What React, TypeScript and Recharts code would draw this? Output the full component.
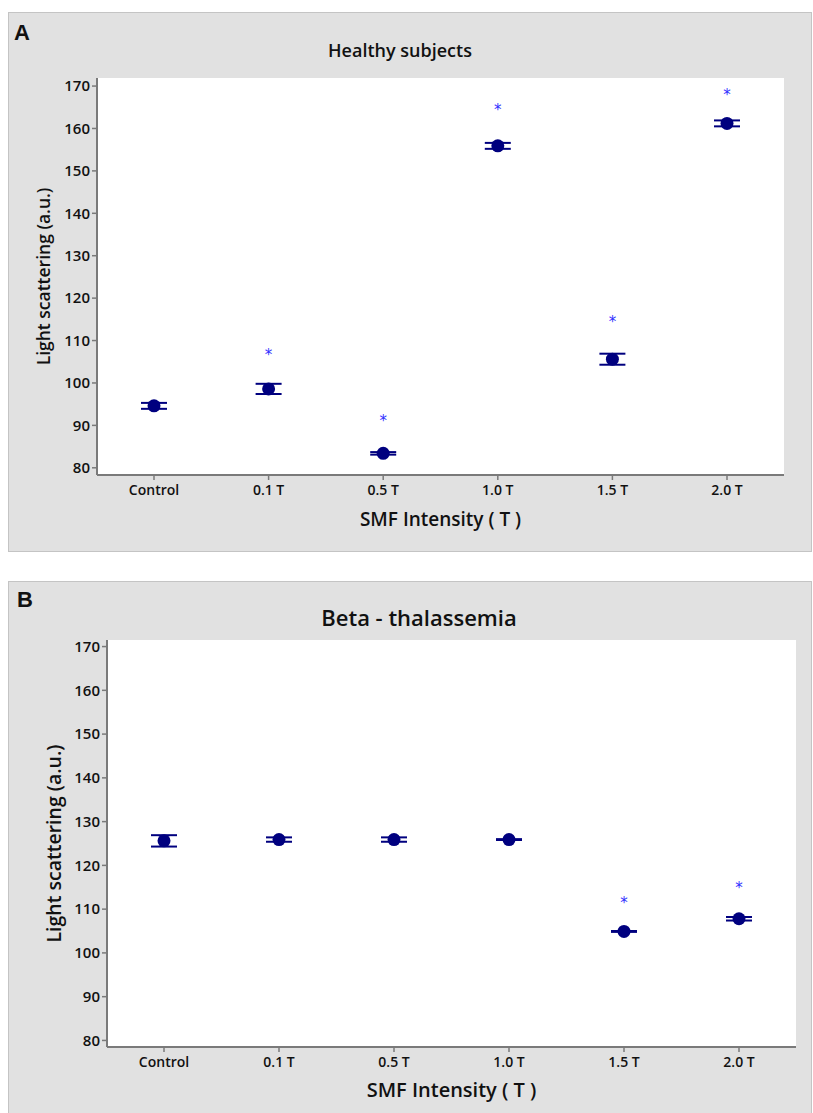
import { ComposedChart, Scatter, XAxis, YAxis, ErrorBar, CartesianGrid } from "recharts";

const categories = ["Control", "0.1 T", "0.5 T", "1.0 T", "1.5 T", "2.0 T"];
const yTicks = [80, 90, 100, 110, 120, 130, 140, 150, 160, 170];

// panel A - healthy subjects
const healthyMean = [94.6, 98.6, 83.4, 155.9, 105.6, 161.2];
const healthyErr = [0.7, 1.2, 0.3, 0.7, 1.3, 0.7];
const healthyStar = [null, 107.2, 91.7, 165.0, 115.1, 168.6];

// panel B - beta thalassemia
const thalMean = [125.6, 125.9, 125.9, 125.9, 104.9, 107.8];
const thalErr = [1.3, 0.5, 0.5, 0.1, 0.1, 0.4];
const thalStar = [null, null, null, null, 112.2, 115.5];

const NAVY = "#00007f";
const AXIS = "#7a7a7a";
const FONT = "'Open Sans', 'Noto Sans', sans-serif";

const buildRows = (mean: number[], err: number[], star: (number | null)[]) =>
    categories.map((name, i) => ({ name, mean: mean[i], err: err[i], star: star[i] }));

const Dot = (p: any) => <circle cx={p.cx} cy={p.cy} r={6.5} fill={NAVY} />;

const Star = (p: any) =>
    p.payload.star == null ? <g /> : (
        <text x={p.cx} y={p.cy + 8} textAnchor="middle" fill="#3030ff" fontSize={15} fontFamily="DejaVu Sans">*</text>
    );

type PanelProps = {
    letter: string;
    title: string;
    top: number;
    titleX: number;
    titleTop: number;
    titleSize: number;
    letterTop: number;
    letterLeft: number;
    margin: { top: number; right: number; bottom: number; left: number };
    domain: [number, number];
    rows: any[];
    yLabelOffset: number;
    yLabelSize: number;
    xLabelOffset: number;
    xLabelSize: number;
};

function Panel(props: PanelProps) {
    const { letter, title, top, titleX, titleTop, letterTop, letterLeft, margin, domain, rows } = props;
    return (
        <div style={{ position: "absolute", left: 8, top, width: 804, height: 540, background: "#e1e1e1", border: "1px solid #c4c4c4", boxSizing: "border-box" }}>
            <div style={{ position: "absolute", left: letterLeft, top: letterTop, fontFamily: "'Liberation Sans', Arial, sans-serif", fontWeight: 700, fontSize: 22, lineHeight: "22px", color: "#111" }}>
                {letter}
            </div>
            <div style={{ position: "absolute", left: titleX, top: titleTop, transform: "translateX(-50%)", whiteSpace: "nowrap", fontFamily: FONT, fontWeight: 600, fontSize: props.titleSize, lineHeight: "20px", color: "#111" }}>
                {title}
            </div>
            <ComposedChart width={802} height={538} data={rows} margin={margin} style={{ position: "absolute", left: 0, top: 0 }}>
                <CartesianGrid fill="#ffffff" horizontal={false} vertical={false} />
                <XAxis
                    dataKey="name"
                    type="category"
                    height={60}
                    interval={0}
                    padding={{ left: 57, right: 57 }}
                    tickSize={5}
                    tickMargin={5}
                    axisLine={{ stroke: AXIS, strokeWidth: 2 }}
                    tickLine={{ stroke: AXIS, strokeWidth: 1.5 }}
                    tick={{ fill: "#111", fontSize: 14, fontWeight: 600, fontFamily: FONT }}
                    label={{ value: "SMF Intensity ( T )", position: "insideBottom", offset: props.xLabelOffset, fill: "#111", fontSize: props.xLabelSize, fontWeight: 600, fontFamily: FONT }}
                />
                <XAxis xAxisId="top" dataKey="name" orientation="top" height={0} tick={false} tickLine={false} axisLine={{ stroke: AXIS, strokeWidth: 2 }} />
                <YAxis
                    type="number"
                    domain={domain}
                    allowDataOverflow
                    ticks={yTicks}
                    interval={0}
                    width={60}
                    tickSize={5}
                    axisLine={{ stroke: AXIS, strokeWidth: 2 }}
                    tickLine={{ stroke: AXIS, strokeWidth: 1.5 }}
                    tick={{ fill: "#111", fontSize: 15, fontWeight: 600, fontFamily: FONT }}
                    label={{ value: "Light scattering (a.u.)", angle: -90, position: "insideLeft", offset: props.yLabelOffset, fill: "#111", fontSize: props.yLabelSize, fontWeight: 600, fontFamily: FONT, style: { textAnchor: "middle" } }}
                />
                <YAxis yAxisId="right" orientation="right" width={0} domain={domain} tick={false} tickLine={false} axisLine={{ stroke: AXIS, strokeWidth: 2 }} />
                <Scatter dataKey="mean" shape={Dot} isAnimationActive={false}>
                    <ErrorBar dataKey="err" direction="y" width={13} stroke={NAVY} strokeWidth={2} isAnimationActive={false} />
                </Scatter>
                <Scatter dataKey="star" shape={Star} isAnimationActive={false} />
            </ComposedChart>
        </div>
    );
}

export default function App() {
    return (
        <div style={{ position: "absolute", left: 0, top: 0, width: 813, height: 1113, overflow: "hidden", background: "#fff" }}>
            <Panel
                letter="A"
                title="Healthy subjects"
                top={12}
                titleX={391}
                titleTop={27}
                titleSize={18}
                letterTop={9}
                letterLeft={5}
                margin={{ top: 65, right: 27, bottom: 16, left: 28 }}
                domain={[78.3, 171.9]}
                rows={buildRows(healthyMean, healthyErr, healthyStar)}
                yLabelOffset={7}
                yLabelSize={17.5}
                xLabelOffset={9}
                xLabelSize={19}
            />
            <Panel
                letter="B"
                title="Beta - thalassemia"
                top={581}
                titleX={410}
                titleTop={25}
                titleSize={22}
                letterTop={7}
                letterLeft={8}
                margin={{ top: 58, right: 15, bottom: 13, left: 38 }}
                domain={[78.5, 171.5]}
                rows={buildRows(thalMean, thalErr, thalStar)}
                yLabelOffset={7}
                yLabelSize={19.5}
                xLabelOffset={10}
                xLabelSize={20}
            />
        </div>
    );
}
